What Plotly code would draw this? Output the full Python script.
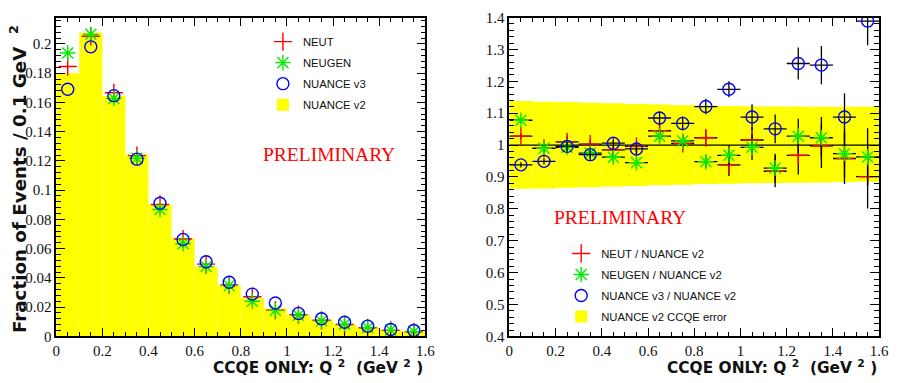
import plotly.graph_objects as go

# Q^2 bins (GeV^2), 0.1 GeV^2 wide
q2_centers = [0.05, 0.15, 0.25, 0.35, 0.45, 0.55, 0.65, 0.75,
              0.85, 0.95, 1.05, 1.15, 1.25, 1.35, 1.45, 1.55]
bin_width = 0.1
half_bin = [0.05] * len(q2_centers)

# Left panel: fraction of CCQE events per 0.1 GeV^2
nuance_v2 = [0.1800, 0.2076, 0.1646, 0.1244, 0.0904, 0.0669, 0.0474, 0.0348,
             0.0260, 0.0191, 0.0148, 0.0115, 0.0082, 0.0060, 0.0044, 0.0034]
neut = [0.1845, 0.2052, 0.1666, 0.1236, 0.0902, 0.0666, 0.0494, 0.0352,
        0.0271, 0.0179, 0.0149, 0.0110, 0.0081, 0.0059, 0.0041, 0.0031]
neugen = [0.1938, 0.2066, 0.1627, 0.1218, 0.0868, 0.0633, 0.0478, 0.0347,
          0.0240, 0.0178, 0.0145, 0.0106, 0.0084, 0.0061, 0.0043, 0.0033]
nuance_v3 = [0.1690, 0.1980, 0.1646, 0.1212, 0.0910, 0.0663, 0.0510, 0.0370,
             0.0289, 0.0228, 0.0157, 0.0121, 0.0097, 0.0070, 0.0047, 0.0040]

# Right panel: ratios to NUANCE v2 with statistical errors
ratio_neut = [1.028, 0.990, 1.010, 1.003, 0.985, 0.996, 1.045, 1.005,
              1.023, 0.938, 1.016, 0.918, 0.968, 0.998, 0.958, 0.901]
ratio_neut_err = [0.008, 0.010, 0.020, 0.015, 0.015, 0.018, 0.020, 0.020,
                  0.025, 0.035, 0.040, 0.050, 0.060, 0.070, 0.080, 0.100]
ratio_neugen = [1.078, 0.990, 0.993, 0.975, 0.962, 0.945, 1.028, 1.013,
                0.948, 0.968, 0.993, 0.928, 1.028, 1.023, 0.973, 0.963]
ratio_neugen_err = [0.008, 0.010, 0.015, 0.015, 0.015, 0.018, 0.020, 0.020,
                    0.020, 0.030, 0.040, 0.045, 0.055, 0.065, 0.075, 0.090]
ratio_v3 = [0.938, 0.949, 0.996, 0.970, 1.006, 0.988, 1.085, 1.068,
            1.121, 1.175, 1.088, 1.051, 1.256, 1.251, 1.088, 1.389]
ratio_v3_err = [0.008, 0.010, 0.015, 0.015, 0.015, 0.018, 0.020, 0.022,
                0.024, 0.025, 0.040, 0.045, 0.050, 0.060, 0.075, 0.076]

# NUANCE v2 CCQE model uncertainty band
band_upper = [1.138, 1.136, 1.135, 1.133, 1.131, 1.129, 1.127, 1.125,
              1.124, 1.123, 1.122, 1.121, 1.121, 1.120, 1.120, 1.120]
band_lower = [0.863, 0.864, 0.866, 0.868, 0.870, 0.872, 0.874, 0.876,
              0.878, 0.879, 0.880, 0.881, 0.882, 0.883, 0.884, 0.885]
unity = [1.0, 1.0]
x_full = [0.0, 1.6]

RED, GREEN, BLUE, YELLOW = "#ff0000", "#00ee00", "#0000ff", "#ffff00"
W, H = 900, 383


def mk(symbol, color, size=13):
    return dict(symbol=symbol, size=size, color=color, line=dict(color=color, width=1.4))


fig = go.Figure()

# ---- left panel -------------------------------------------------------
fig.add_trace(go.Bar(x=q2_centers, y=nuance_v2, width=bin_width,
                     marker=dict(color=YELLOW, line=dict(width=0)),
                     name="NUANCE v2", xaxis="x", yaxis="y", legend="legend",
                     legendgroup="l4", legendrank=4))
fig.add_trace(go.Scatter(x=q2_centers, y=neut, mode="markers", name="NEUT",
                         marker=mk("cross-thin-open", RED),
                         xaxis="x", yaxis="y", legend="legend",
                         legendgroup="l1", legendrank=1))
fig.add_trace(go.Scatter(x=q2_centers, y=neugen, mode="markers", name="NEUGEN",
                         marker=mk("asterisk-open", GREEN),
                         xaxis="x", yaxis="y", legend="legend",
                         legendgroup="l2", legendrank=2))
fig.add_trace(go.Scatter(x=q2_centers, y=nuance_v3, mode="markers", name="NUANCE v3",
                         marker=mk("circle-open", BLUE, 12),
                         xaxis="x", yaxis="y", legend="legend",
                         legendgroup="l3", legendrank=3))

# ---- right panel ------------------------------------------------------
fig.add_trace(go.Bar(x=q2_centers, y=[u - l for u, l in zip(band_upper, band_lower)],
                     base=band_lower, width=bin_width,
                     marker=dict(color=YELLOW, line=dict(width=0)),
                     name="NUANCE v2 CCQE error", xaxis="x2", yaxis="y2",
                     legend="legend2", legendgroup="r4", legendrank=4))
fig.add_trace(go.Scatter(x=x_full, y=unity, mode="lines", showlegend=False,
                         line=dict(color="black", width=1.3),
                         xaxis="x2", yaxis="y2", hoverinfo="skip"))

err_x = dict(type="data", array=half_bin, color="black", thickness=1.3, width=0)


def err_y(vals):
    return dict(type="data", array=vals, color="black", thickness=1.3, width=0)


fig.add_trace(go.Scatter(x=q2_centers, y=ratio_neut, mode="markers",
                         name="NEUT / NUANCE v2", error_x=err_x,
                         error_y=err_y(ratio_neut_err),
                         marker=mk("cross-thin-open", RED),
                         xaxis="x2", yaxis="y2", legend="legend2",
                         legendgroup="r1", legendrank=1))
fig.add_trace(go.Scatter(x=q2_centers, y=ratio_neugen, mode="markers",
                         name="NEUGEN / NUANCE v2", error_x=err_x,
                         error_y=err_y(ratio_neugen_err),
                         marker=mk("asterisk-open", GREEN),
                         xaxis="x2", yaxis="y2", legend="legend2",
                         legendgroup="r2", legendrank=2))
fig.add_trace(go.Scatter(x=q2_centers, y=ratio_v3, mode="markers",
                         name="NUANCE v3 / NUANCE v2", error_x=err_x,
                         error_y=err_y(ratio_v3_err),
                         marker=mk("circle-open", BLUE, 12),
                         xaxis="x2", yaxis="y2", legend="legend2",
                         legendgroup="r3", legendrank=3))

# ---- axes -------------------------------------------------------------
tick_font = dict(family="Liberation Serif", size=15, color="#111")


def px_x(p):
    return p / W


def px_y(p):
    return 1 - p / H


common = dict(showgrid=False, zeroline=False, showline=True, linecolor="black",
              linewidth=1.5, mirror="allticks", ticks="inside", ticklen=9,
              tickwidth=1.3, tickcolor="black", tickfont=tick_font)


def minor(d):
    return dict(dtick=d, ticks="inside", ticklen=5, tickcolor="black")


legend_common = dict(xanchor="left", yanchor="top", bgcolor="rgba(0,0,0,0)",
                     borderwidth=0, traceorder="grouped", tracegroupgap=2,
                     font=dict(family="Liberation Sans", size=11.3, color="#111"))

fig.update_layout(
    xaxis=dict(domain=[px_x(53), px_x(428)], range=[0, 1.6], tick0=0, dtick=0.2,
               minor=minor(0.05), anchor="y", **common),
    yaxis=dict(domain=[px_y(342.7), px_y(10)], range=[0, 0.218], tick0=0, dtick=0.02,
               minor=minor(0.004), anchor="x", **common),
    xaxis2=dict(domain=[px_x(513.3), px_x(889)], range=[0, 1.6], tick0=0, dtick=0.2,
                minor=minor(0.05), anchor="y2", **common),
    yaxis2=dict(domain=[px_y(342.7), px_y(10)], range=[0.4, 1.4], tick0=0.4, dtick=0.1,
                minor=minor(0.02), anchor="x2", **common),
    width=W, height=H, margin=dict(l=0, r=0, t=0, b=0),
    plot_bgcolor="white", paper_bgcolor="white",
    barmode="overlay", showlegend=True,
    legend=dict(x=px_x(263), y=px_y(20), **legend_common),
    legend2=dict(x=px_x(566), y=px_y(241), **legend_common),
)

title_font = dict(family="DejaVu Sans", size=15.4, color="#111")
xtitle = "<b>CCQE ONLY: Q <sup>2</sup>  (GeV <sup>2</sup> )</b>"
annotations = [
    dict(text=xtitle, x=px_x(428), y=px_y(375), xref="paper", yref="paper",
         xanchor="right", yanchor="middle", showarrow=False, font=title_font),
    dict(text=xtitle, x=px_x(889), y=px_y(375), xref="paper", yref="paper",
         xanchor="right", yanchor="middle", showarrow=False, font=title_font),
    dict(text="<b>Fraction of Events / 0.1 GeV  <sup>2</sup></b>", textangle=-90,
         x=px_x(15), y=px_y(16), xref="paper", yref="paper",
         xanchor="center", yanchor="top", showarrow=False,
         font=dict(family="DejaVu Sans", size=18.3, color="#111")),
    dict(text="PRELIMINARY", x=px_x(330), y=px_y(153), xref="paper", yref="paper",
         xanchor="center", yanchor="middle", showarrow=False,
         font=dict(family="Liberation Serif", size=19.5, color=RED)),
    dict(text="PRELIMINARY", x=px_x(626), y=px_y(219), xref="paper", yref="paper",
         xanchor="center", yanchor="middle", showarrow=False,
         font=dict(family="Liberation Serif", size=19.5, color=RED)),
]
fig.update_layout(annotations=annotations)

fig.write_html("out.html")
